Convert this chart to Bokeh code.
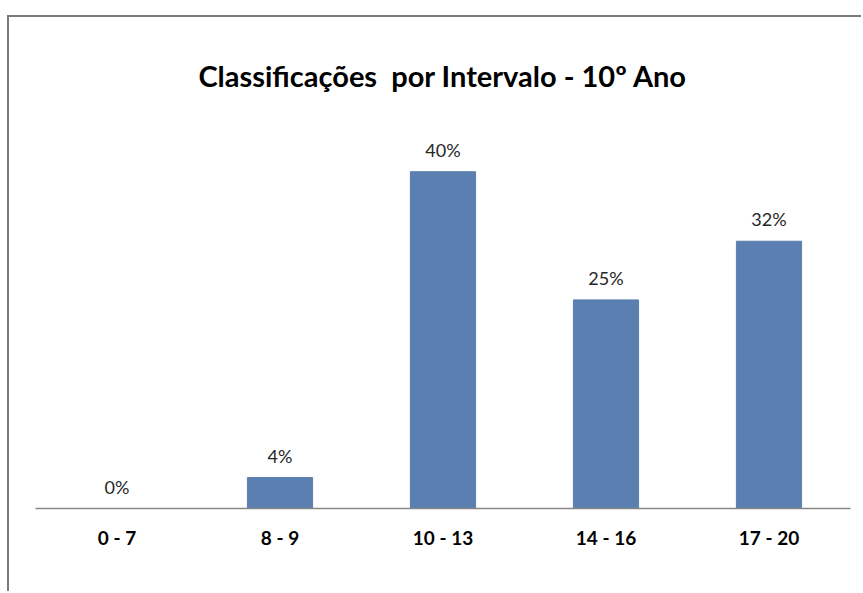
from bokeh.plotting import figure
from bokeh.models import ColumnDataSource, LabelSet, Range1d
from bokeh.core.properties import value
from bokeh.embed import file_html
from bokeh.resources import INLINE

categories = ["0 - 7", "8 - 9", "10 - 13", "14 - 16", "17 - 20"]
values = [0.0, 3.7, 40.2, 24.9, 31.9]
labels = ["0%", "4%", "40%", "25%", "32%"]

src = ColumnDataSource(dict(cat=categories, val=values, lab=labels))

p = figure(x_range=categories, y_range=Range1d(0, 45), width=854, height=576,
           output_backend="svg", toolbar_location=None,
           min_border_left=26, min_border_right=13, min_border_bottom=85, min_border_top=114)

p.styles = {"margin-left": "9px", "margin-top": "17px",
            "box-shadow": "-2px -2px 0px 0px #7a7a7a"}

p.vbar(x="cat", top="val", width=0.4, source=src, fill_color="#5A7FB0", line_color="#5A7FB0")

p.add_layout(LabelSet(x="cat", y="val", text="lab", source=src, text_align="center",
                      text_baseline="bottom", y_offset=11, text_font=value("Lato"),
                      text_font_size="18px", text_color="#262626"))

p.title.text = "Classificações\u00a0 por Intervalo - 10º Ano"
p.title.align = "center"
p.title.text_font = "Lato"
p.title.text_font_style = "bold"
p.title.text_font_size = "29px"
p.title.text_color = "#000000"
p.title.standoff = 77

p.yaxis.visible = False
p.xgrid.visible = False
p.ygrid.visible = False
p.outline_line_color = None

xa = p.xaxis[0]
xa.axis_line_color = "#868686"
xa.axis_line_width = 1.5
xa.major_tick_line_color = None
xa.minor_tick_line_color = None
xa.major_label_text_font = "Lato"
xa.major_label_text_font_style = "bold"
xa.major_label_text_font_size = "19px"
xa.major_label_text_color = "#000000"
xa.major_label_standoff = 11

open("out.html", "w").write(file_html(p, INLINE))
